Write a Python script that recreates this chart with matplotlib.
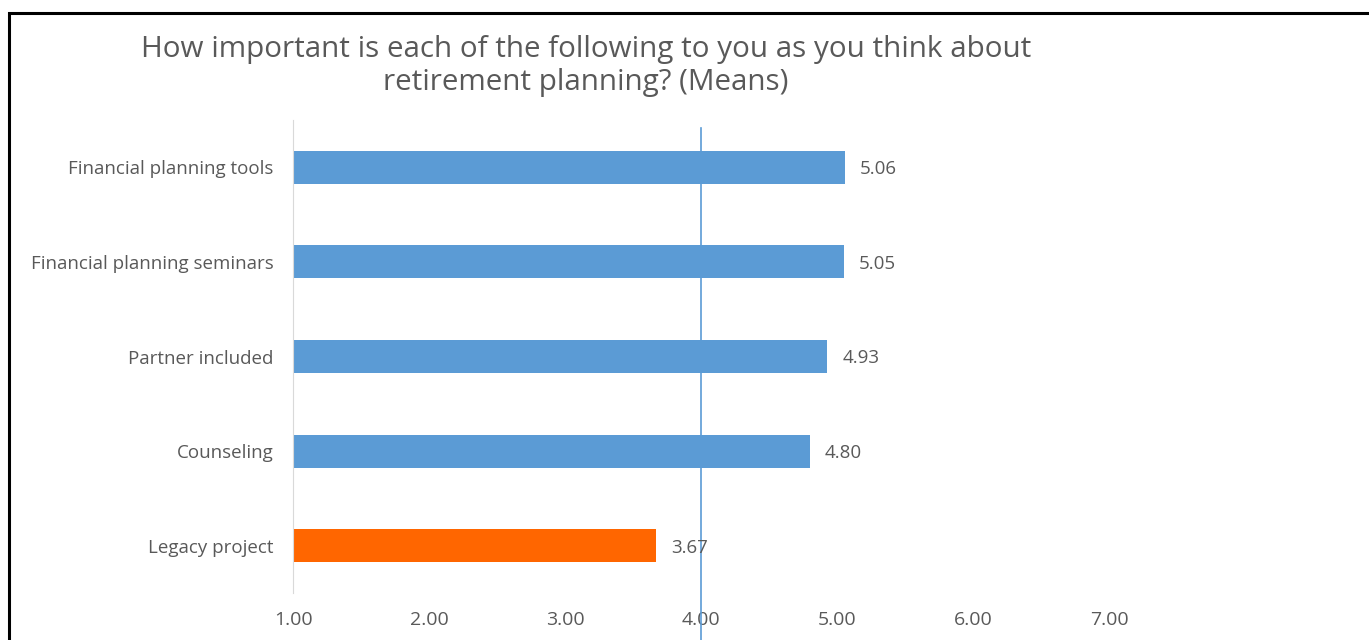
import matplotlib.pyplot as plt
from matplotlib.patches import Rectangle

categories = ['Financial planning tools', 'Financial planning seminars',
              'Partner included', 'Counseling', 'Legacy project']
means = [5.06, 5.05, 4.93, 4.80, 3.67]
colors = ['#5B9BD5', '#5B9BD5', '#5B9BD5', '#5B9BD5', '#FF6600']
xticks = [1, 2, 3, 4, 5, 6, 7]
midpoint = 4.0

plt.rcParams['font.family'] = ['Open Sans', 'DejaVu Sans']
grey = '#595959'

fig = plt.figure(figsize=(13.69, 6.4), dpi=100)
ax = fig.add_axes([293 / 1369, 47 / 640, (1109 - 293) / 1369, 473 / 640])

ypos = list(range(len(categories)))
ax.barh(ypos, [m - 1 for m in means], left=1, height=0.35, color=colors)
for y, m in zip(ypos, means):
    ax.text(m + 0.11, y + 0.02, f'{m:.2f}', va='center', ha='left', fontsize=13.5, color=grey)

ax.axvline(midpoint, ymin=-0.1, ymax=0.983, color='#5B9BD5', lw=1.2, clip_on=False)

ax.set_xlim(1, 7)
ax.set_ylim(len(categories) - 0.5, -0.5)
ax.set_yticks(ypos)
ax.set_yticklabels(categories, fontsize=13.5, color=grey)
ax.set_xticks(xticks)
ax.set_xticklabels([f'{t:.2f}' for t in xticks], fontsize=14, color=grey)
ax.tick_params(length=0, pad=14, axis='y')
ax.tick_params(length=0, pad=13, axis='x')
for side in ['top', 'right', 'bottom']:
    ax.spines[side].set_visible(False)
ax.spines['left'].set_color('#D9D9D9')

fig.text(586 / 1369, 1 - 66 / 640,
         'How important is each of the following to you as you think about\n'
         'retirement planning? (Means)',
         ha='center', va='center', fontsize=21.3, color=grey, linespacing=1.2)

# outer frame (only top and left edges fall inside the canvas)
fig.patches.append(Rectangle((9 / 1369, -0.1), 1.2, 1.1 - 13 / 640, fill=False,
                             edgecolor='black', lw=2.2, transform=fig.transFigure))

fig.savefig('out.png', dpi=100)
